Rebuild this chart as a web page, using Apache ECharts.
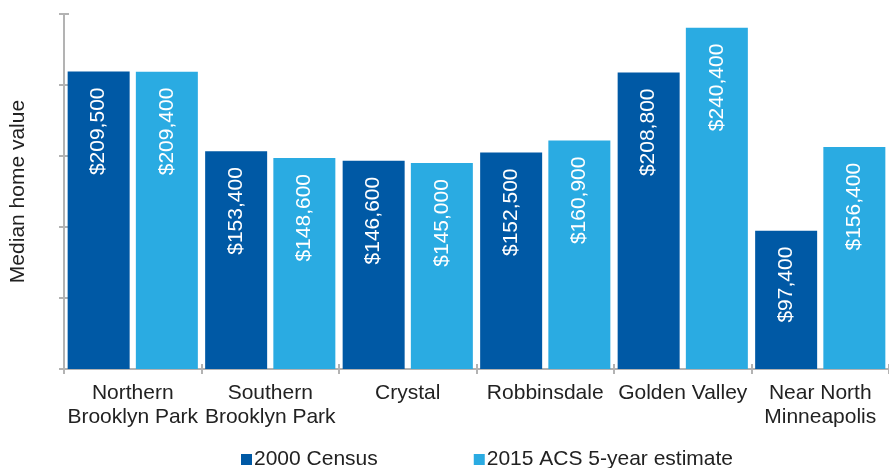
<!DOCTYPE html>
<html>
<head>
<meta charset="utf-8">
<script src="https://cdn.jsdelivr.net/npm/echarts@6/dist/echarts.min.js"></script>
<style>
  html, body { margin: 0; padding: 0; background: #fff; }
  #chart { width: 889px; height: 468px; }
</style>
</head>
<body>
<div id="chart"></div>
<script>
// neighbourhoods
const categories = [
  'Northern\nBrooklyn Park',
  'Southern\nBrooklyn Park',
  'Crystal',
  'Robbinsdale',
  'Golden Valley',
  'Near North\nMinneapolis'
];
const census2000 = [209500, 153400, 146600, 152500, 208800, 97400];
const acs2015 = [209400, 148600, 145000, 160900, 240400, 156400];

const axisGrey = '#b3b3b3';
const textColor = '#222';
const font = 'Liberation Sans, Arial, sans-serif';

function money(v) {
  return '$' + v.toLocaleString('en-US');
}

const barLabel = {
  show: true,
  position: 'insideTop',
  rotate: 90,
  align: 'right',
  verticalAlign: 'middle',
  distance: 16,
  color: '#fff',
  fontSize: 21,
  fontFamily: font,
  formatter: p => money(p.value)
};

let myChart = echarts.init(document.getElementById('chart'));

// ticks that cross the axis line: long outward ticks on a twin axis pulled inward
const crossTick = { show: true, length: 10, lineStyle: { color: axisGrey, width: 2 } };

myChart.setOption({
  animation: false,
  textStyle: { fontFamily: font },
  grid: {
    left: 62,
    right: -6,
    top: 14,
    bottom: 99,
    containLabel: false
  },
  legend: {
    left: 236,
    top: 444,
    itemWidth: 11,
    itemHeight: 11,
    itemGap: 96,
    icon: 'rect',
    textStyle: { color: textColor, fontSize: 21, fontFamily: font, padding: [0, 0, 0, -3] },
    data: ['2000 Census', '2015 ACS 5-year estimate']
  },
  xAxis: [
    {
      type: 'category',
      data: categories,
      axisLine: { lineStyle: { color: axisGrey, width: 2 } },
      axisTick: { show: false },
      axisLabel: {
        color: textColor,
        fontSize: 21,
        lineHeight: 24,
        margin: 12,
        interval: 0,
        fontFamily: font
      }
    },
    {
      type: 'category',
      position: 'bottom',
      offset: -5,
      data: categories,
      axisLine: { show: false },
      axisTick: crossTick,
      axisLabel: { show: false }
    }
  ],
  yAxis: [
    {
      type: 'value',
      min: 0,
      max: 250000,
      interval: 50000,
      name: 'Median home value',
      nameLocation: 'middle',
      nameGap: 35,
      nameTextStyle: { color: textColor, fontSize: 21, fontFamily: font },
      axisLine: { show: true, lineStyle: { color: axisGrey, width: 2 } },
      axisTick: { show: false },
      axisLabel: { show: false },
      splitLine: { show: false }
    },
    {
      type: 'value',
      position: 'left',
      offset: -5,
      min: 0,
      max: 250000,
      interval: 50000,
      axisLine: { show: false },
      axisTick: crossTick,
      axisLabel: { show: false },
      splitLine: { show: false }
    }
  ],
  series: [
    {
      name: '2000 Census',
      type: 'bar',
      data: census2000,
      barWidth: 62,
      barGap: '10%',
      itemStyle: { color: '#0059a5' },
      label: barLabel
    },
    {
      name: '2015 ACS 5-year estimate',
      type: 'bar',
      data: acs2015,
      barWidth: 62,
      barGap: '10%',
      itemStyle: { color: '#2aabe2' },
      label: barLabel
    }
  ]
});
</script>
</body>
</html>
